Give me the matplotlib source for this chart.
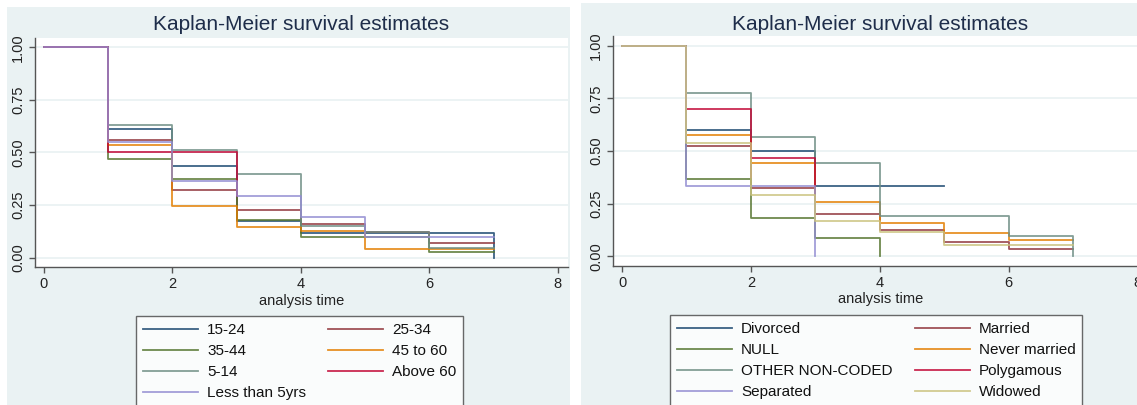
import matplotlib
matplotlib.use('Agg')
import matplotlib.pyplot as plt
from matplotlib.patches import Rectangle
from matplotlib.lines import Line2D

plt.rcParams['font.family'] = ['Liberation Sans', 'DejaVu Sans']

# Stata s2color palette
NAVY = '#1a476f'
MAROON = '#90353b'
GREEN = '#55752f'
ORANGE = '#e37e00'
TEAL = '#6e8e84'
CRANBERRY = '#c10534'
LAVENDER = '#938dd2'
KHAKI = '#cac27e'
BG = '#eaf2f3'

# ---- left panel: age groups ----
age_times = [0, 1, 2, 3, 4, 5, 6, 7]
age_15_24 = [1.0, 0.613, 0.436, 0.174, 0.119, 0.119, 0.119, 0.0]
age_25_34 = [1.0, 0.558, 0.323, 0.227, 0.160, 0.121, 0.070, 0.070]
age_35_44 = [1.0, 0.471, 0.373, 0.179, 0.097, 0.097, 0.029, 0.029]
age_45_60 = [1.0, 0.537, 0.244, 0.147, 0.127, 0.043, 0.043, 0.043]
age_5_14 = [1.0, 0.629, 0.512, 0.399, 0.152, 0.121, 0.045, 0.045]
age_above_60 = [1.0, 0.500, 0.500, 0.293]
age_under_5 = [1.0, 0.548, 0.365, 0.293, 0.195, 0.100, 0.100, 0.100]
age_labels = ['15-24', '25-34', '35-44', '45 to 60', '5-14', 'Above 60', 'Less than 5yrs']

# ---- right panel: marital status ----
ms_times = [0, 1, 2, 3, 4, 5, 6, 7]
divorced = [1.0, 0.599, 0.499, 0.334, 0.334, 0.334]
married = [1.0, 0.525, 0.322, 0.200, 0.124, 0.066, 0.037, 0.037]
null_grp = [1.0, 0.365, 0.184, 0.089, 0.0]
other = [1.0, 0.774, 0.566, 0.441, 0.190, 0.190, 0.095, 0.0]
never_married = [1.0, 0.574, 0.445, 0.258, 0.160, 0.113, 0.076, 0.076]
polygamous = [1.0, 0.699, 0.468, 0.334]
separated = [1.0, 0.334, 0.334, 0.0]
widowed = [1.0, 0.536, 0.292, 0.168, 0.117, 0.056, 0.056, 0.056]
ms_labels = ['Divorced', 'Married', 'NULL', 'Never married', 'OTHER NON-CODED',
             'Polygamous', 'Separated', 'Widowed']

W, H = 1137, 405
fig = plt.figure(figsize=(W / 100, H / 100), dpi=100)
fig.patch.set_facecolor('white')


def px_rect(x0, y0, x1, y1):
    # pixel box (top-left origin) -> figure fraction [l, b, w, h]
    return [x0 / W, 1 - y1 / H, (x1 - x0) / W, (y1 - y0) / H]


def add_bg(x0, y0, x1, y1):
    l, b, w, h = px_rect(x0, y0, x1, y1)
    fig.add_artist(Rectangle((l, b), w, h, transform=fig.transFigure,
                             facecolor=BG, edgecolor='none', zorder=-1))


def style_axes(ax, ylim):
    ax.set_xlim(-0.14, 8.16)
    ax.set_ylim(*ylim)
    ax.set_xticks([0, 2, 4, 6, 8])
    ax.set_yticks([0, 0.25, 0.5, 0.75, 1.0])
    ax.set_yticklabels(['0.00', '0.25', '0.50', '0.75', '1.00'], rotation=90, va='center')
    for s in ['top', 'right']:
        ax.spines[s].set_visible(False)
    for s in ['left', 'bottom']:
        ax.spines[s].set_color('#555555')
        ax.spines[s].set_linewidth(1.0)
    ax.tick_params(direction='out', length=4, width=1.0, color='#555555',
                   labelsize=10.5, labelcolor='#222222', pad=3)
    ax.yaxis.grid(True, color=BG, lw=1.3)
    ax.set_axisbelow(True)
    ax.set_xlabel('analysis time', fontsize=10.5, color='#222222', labelpad=2)


def add_legend(handles, labels, x, y, ncol_order):
    hs = [handles[i] for i in ncol_order]
    ls = [labels[i] for i in ncol_order]
    leg = fig.legend(hs, ls, loc='upper left', bbox_to_anchor=(x / W, 1 - y / H),
                     bbox_transform=fig.transFigure, ncol=2, fontsize=11,
                     frameon=True, fancybox=False, borderaxespad=0,
                     handlelength=3.6, handletextpad=0.6, columnspacing=1.45,
                     labelspacing=0.46, borderpad=0.45)
    leg.get_frame().set_edgecolor('#444444')
    leg.get_frame().set_linewidth(1.0)
    for t in leg.get_texts():
        t.set_color('#111111')
    return leg


# backgrounds of the two graph regions
add_bg(7, 7, 570, 405)
add_bg(581, 3, 1137, 405)

# left panel
ax1 = fig.add_axes(px_rect(35, 38, 568, 267))
age_series = [age_15_24, age_25_34, age_35_44, age_45_60, age_5_14, age_above_60, age_under_5]
age_colors = [NAVY, MAROON, GREEN, ORANGE, TEAL, CRANBERRY, LAVENDER]
for vals, c in zip(age_series, age_colors):
    ax1.step(age_times[:len(vals)], vals, where='post', color=c, lw=1.3, alpha=0.85)
style_axes(ax1, (-0.044, 1.044))
fig.text(301 / W, 1 - 25 / H, 'Kaplan-Meier survival estimates', ha='center', va='center',
         fontsize=15, color='#1e2d4a')

# right panel
ax2 = fig.add_axes(px_rect(613, 36, 1148, 266))
ms_series = [divorced, married, null_grp, never_married, other, polygamous, separated, widowed]
ms_colors = [NAVY, MAROON, GREEN, ORANGE, TEAL, CRANBERRY, LAVENDER, KHAKI]
for vals, c in zip(ms_series, ms_colors):
    ax2.step(ms_times[:len(vals)], vals, where='post', color=c, lw=1.3, alpha=0.85)
style_axes(ax2, (-0.046, 1.046))
fig.text(880 / W, 1 - 24 / H, 'Kaplan-Meier survival estimates', ha='center', va='center',
         fontsize=15, color='#1e2d4a')

# legends: Stata fills rows first, matplotlib fills columns first
age_handles = [Line2D([], [], color=c, lw=1.3, alpha=0.85) for c in age_colors]
add_legend(age_handles, age_labels, 136, 316, [0, 2, 4, 6, 1, 3, 5])
ms_handles = [Line2D([], [], color=c, lw=1.3, alpha=0.85) for c in ms_colors]
add_legend(ms_handles, ms_labels, 670, 315, [0, 2, 4, 6, 1, 3, 5, 7])

fig.savefig('out.png', dpi=100)
